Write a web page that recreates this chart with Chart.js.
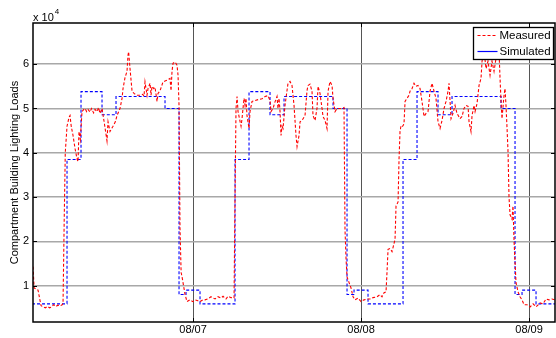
<!DOCTYPE html>
<html>
<head>
<meta charset="utf-8">
<script src="https://cdn.jsdelivr.net/npm/chart.js@4/dist/chart.umd.min.js"></script>
<style>
  html, body { margin: 0; padding: 0; background: #fff; }
  #wrap { width: 556px; height: 338px; position: relative; }
</style>
</head>
<body>
<div id="wrap"><canvas id="c" width="556" height="338"></canvas></div>
<script>
// ---- data (loads in units of 10^4, time in hours from 08/06 00:00) ----
const xTickHours = [24, 48, 72];
const xTickLabels = ['08/07', '08/08', '08/09'];
const yTickValues = [1, 2, 3, 4, 5, 6];
const yMultiplierBase = 'x 10';
const yMultiplierExp = '4';
const yTitle = 'Compartment Building Lighting Loads';
const seriesNames = ['Measured', 'Simulated'];

const measuredHours = [
  1.14,1.3,1.6,1.86,2.1,2.29,2.6,2.9,3.2,3.5,3.8,4.1,4.4,4.7,5.0,5.3,5.43,5.6,5.75,6.0,
  6.29,6.43,6.6,6.86,7.14,7.43,7.57,7.71,7.9,8.14,8.4,8.57,8.8,9.0,9.29,9.5,9.8,10.0,10.3,10.5,
  10.71,11.0,11.3,11.71,11.86,12.14,12.57,12.9,13.14,13.57,13.86,14.0,14.29,14.57,14.71,14.8,15.0,15.29,15.57,16.0,
  16.43,16.8,17.0,17.14,17.43,17.57,17.86,18.0,18.14,18.4,18.57,18.86,19.0,19.29,19.71,20.0,20.29,20.71,20.86,21.0,
  21.14,21.43,21.71,21.86,22.0,22.14,22.3,22.43,22.57,22.86,23.14,23.57,24.0,24.3,24.7,25.0,25.4,25.7,26.1,26.57,
  27.14,27.57,28.0,28.29,28.71,29.0,29.43,29.86,30.0,30.14,30.29,30.43,30.86,31.0,31.14,31.29,31.43,31.57,31.71,32.0,
  32.14,32.43,32.86,33.29,33.86,34.29,34.71,35.0,35.14,35.43,35.71,36.0,36.14,36.29,36.43,36.57,36.71,36.86,37.14,37.43,
  37.57,37.86,38.14,38.43,38.71,38.86,39.14,39.29,39.57,40.0,40.29,40.43,40.71,41.0,41.14,41.43,41.71,41.86,42.14,42.43,
  42.57,42.86,43.14,43.29,43.57,43.86,44.0,44.29,44.57,45.0,45.29,45.57,45.71,45.86,46.0,46.29,46.57,46.86,47.14,47.57,
  48.0,48.43,48.86,49.29,49.71,50.29,50.71,51.0,51.29,51.57,51.71,51.86,52.14,52.43,52.57,52.86,53.0,53.29,53.43,53.57,
  53.71,53.86,54.0,54.14,54.29,54.57,54.86,55.0,55.29,55.57,55.86,56.14,56.43,56.71,57.0,57.29,57.57,57.86,58.14,58.43,
  58.71,59.0,59.29,59.57,59.86,60.14,60.43,60.57,60.86,61.14,61.43,61.71,62.14,62.43,62.71,63.0,63.29,63.43,63.71,63.86,
  64.14,64.29,64.57,64.86,65.14,65.29,65.57,65.86,66.14,66.43,66.71,67.0,67.29,67.43,67.71,67.86,68.0,68.14,68.43,68.57,
  68.71,68.86,69.0,69.14,69.29,69.57,69.71,69.86,70.14,70.43,70.71,71.0,71.29,71.71,72.14,72.57,73.0,73.57,74.0,74.43,
  74.86,75.29,75.71
];
const measuredLoad = [
  1.43,0.95,0.92,0.9,0.7,0.55,0.52,0.5,0.53,0.5,0.52,0.57,0.53,0.56,0.54,0.57,0.6,2.5,4.0,4.6,
  4.8,4.84,4.6,4.39,4.1,3.86,3.8,4.48,4.3,4.93,4.98,5.0,4.93,4.98,4.92,5.0,4.9,4.98,4.93,5.02,
  4.89,5.0,4.7,4.27,4.7,4.48,4.6,4.7,4.84,5.0,5.23,5.45,5.7,5.84,6.2,6.28,5.9,5.39,5.34,5.3,
  5.3,5.32,5.28,5.6,5.3,5.45,5.57,5.3,5.5,5.45,5.48,5.16,5.34,5.4,5.6,5.62,5.64,5.68,5.4,5.84,
  6.02,6.05,5.98,5.75,5.07,2.3,1.3,1.2,1.07,0.8,0.64,0.68,0.64,0.68,0.66,0.64,0.68,0.68,0.7,0.75,
  0.7,0.75,0.72,0.76,0.7,0.76,0.73,0.72,3.0,5.0,5.27,4.93,4.6,4.77,5.0,5.23,5.07,5.23,4.84,4.55,
  4.93,5.16,5.18,5.2,5.22,5.27,5.29,5.18,4.93,5.0,5.15,5.27,5.0,5.23,4.93,4.39,4.6,4.55,5.07,5.41,
  5.57,5.61,5.52,5.07,4.39,4.14,4.39,4.7,4.73,4.84,5.41,5.52,5.55,5.39,4.84,4.73,5.0,5.5,5.34,5.0,
  4.82,4.73,4.55,5.39,5.61,5.52,5.23,4.93,5.0,5.0,5.0,5.02,2.27,1.6,1.2,1.07,0.95,0.75,0.68,0.72,
  0.64,0.68,0.7,0.7,0.73,0.75,0.8,0.75,0.84,0.86,1.3,1.82,1.84,1.77,1.86,2.05,2.8,2.89,3.86,4.48,
  4.61,4.59,4.61,4.66,5.16,5.23,5.3,5.39,5.45,5.57,5.5,5.52,5.45,5.16,4.82,4.89,4.93,5.39,5.57,5.39,
  5.23,4.7,4.55,4.73,5.0,5.16,5.39,5.57,4.77,4.89,5.07,4.89,4.77,4.82,5.0,5.07,5.05,4.7,4.48,4.84,
  5.07,4.93,5.11,5.52,5.68,6.07,6.3,5.9,6.07,5.75,6.07,5.84,6.14,6.4,6.3,5.68,5.16,4.77,5.3,5.45,
  5.07,4.55,4.02,3.0,2.6,2.5,2.8,2.0,1.07,0.86,0.75,0.68,0.57,0.57,0.52,0.59,0.52,0.61,0.59,0.7,
  0.68,0.7,0.68
];

// simulated: each value holds from its hour until the next breakpoint
const simulatedHours = [1.0, 6, 8, 11, 13, 20, 22, 23, 25, 30, 32, 35, 37, 44, 46, 47, 49, 54, 56, 59, 61, 68, 70, 71, 73, 76];
const simulatedLoad  = [0.59, 3.85, 5.38, 4.86, 5.27, 5.0, 0.8, 0.9, 0.59, 3.85, 5.38, 4.86, 5.27, 5.0, 0.8, 0.9, 0.59, 3.85, 5.38, 4.86, 5.27, 5.0, 0.8, 0.9, 0.59, 0.59];

// ---- chart ----
const FONT = '"Liberation Sans", Arial, Helvetica, sans-serif';
const measuredPts = measuredHours.map((h, i) => ({ x: h, y: measuredLoad[i] }));
const simPts = simulatedHours.map((h, i) => ({ x: h, y: simulatedLoad[i] }));

const decor = {
  id: 'decor',
  afterDraw(chart) {
    const { ctx, chartArea: a, scales: { x, y } } = chart;
    ctx.save();
    const seg = (x1, y1, x2, y2) => { ctx.beginPath(); ctx.moveTo(x1, y1); ctx.lineTo(x2, y2); ctx.stroke(); };
    ctx.strokeStyle = '#000';
    ctx.lineWidth = 1;
    yTickValues.forEach(v => {
      const py = Math.round(y.getPixelForValue(v)) + 0.5;
      seg(a.left, py, a.left + 4, py);
      seg(a.right - 4, py, a.right, py);
    });
    xTickHours.forEach(h => {
      const px = Math.round(x.getPixelForValue(h)) + 0.5;
      seg(px, a.bottom, px, a.bottom - 4);
      seg(px, a.top, px, a.top + 4);
    });
    ctx.lineWidth = 1.5;
    ctx.strokeRect(a.left, a.top, a.right - a.left, a.bottom - a.top);

    // multiplier
    ctx.fillStyle = '#000';
    ctx.textBaseline = 'alphabetic';
    ctx.textAlign = 'left';
    ctx.font = '11px ' + FONT;
    ctx.fillText(yMultiplierBase, a.left, a.top - 2);
    const w = ctx.measureText(yMultiplierBase).width;
    ctx.font = '8px ' + FONT;
    ctx.fillText(yMultiplierExp, a.left + w + 1, a.top - 9);

    // legend box
    const bw = 80, bh = 32;
    const bx = Math.round(a.right - 2 - bw) + 0.5, by = Math.round(a.top + 4) + 0.5;
    ctx.fillStyle = '#fff';
    ctx.fillRect(bx, by, bw, bh);
    ctx.strokeStyle = '#000';
    ctx.lineWidth = 1.3;
    ctx.strokeRect(bx, by, bw, bh);
    const ds = chart.data.datasets;
    const rows = [by + 8, by + 24];
    ds.forEach((d, i) => {
      ctx.strokeStyle = d.borderColor;
      ctx.lineWidth = 1.2;
      ctx.setLineDash(i === 0 ? [3, 2] : []);
      seg(bx + 4, rows[i], bx + 24, rows[i]);
      ctx.setLineDash([]);
      ctx.fillStyle = '#000';
      ctx.font = '11.5px ' + FONT;
      ctx.textBaseline = 'middle';
      ctx.fillText(d.label, bx + 26, rows[i] + 0.5);
    });
    ctx.restore();
  }
};

new Chart(document.getElementById('c'), {
  type: 'line',
  data: {
    datasets: [
      {
        label: seriesNames[0],
        data: measuredPts,
        borderColor: '#ff0000',
        borderWidth: 1.1,
        borderDash: [3, 2],
        pointRadius: 0,
        tension: 0,
        fill: false
      },
      {
        label: seriesNames[1],
        data: simPts,
        borderColor: '#0000ff',
        borderWidth: 1.1,
        borderDash: [3, 2],
        pointRadius: 0,
        stepped: 'before',
        fill: false
      }
    ]
  },
  options: {
    responsive: false,
    animation: false,
    devicePixelRatio: 1,
    layout: { padding: { top: 23, right: 1, left: 0, bottom: 0 } },
    plugins: { legend: { display: false }, tooltip: { enabled: false } },
    scales: {
      x: {
        type: 'linear',
        min: 1.14,
        max: 75.71,
        afterBuildTicks: s => { s.ticks = xTickHours.map(v => ({ value: v })); },
        afterFit: s => { s.height = 16; },
        ticks: {
          callback: (v) => xTickLabels[xTickHours.indexOf(v)],
          font: { family: FONT, size: 11 },
          color: '#000',
          padding: 1,
          maxRotation: 0,
          autoSkip: false
        },
        grid: { color: '#555', lineWidth: 1, drawTicks: false },
        border: { display: false }
      },
      y: {
        type: 'linear',
        min: 0.18,
        max: 6.93,
        afterBuildTicks: s => { s.ticks = yTickValues.map(v => ({ value: v })); },
        afterFit: s => { s.width = 33; },
        ticks: {
          callback: v => String(v),
          font: { family: FONT, size: 11 },
          color: '#000',
          padding: 4
        },
        grid: { color: '#a8a8a8', lineWidth: 1.6, drawTicks: false },
        border: { display: false },
        title: {
          display: true,
          text: yTitle,
          font: { family: FONT, size: 11 },
          color: '#000',
          padding: { top: 8, bottom: 0 }
        }
      }
    }
  },
  plugins: [decor]
});
</script>
</body>
</html>
